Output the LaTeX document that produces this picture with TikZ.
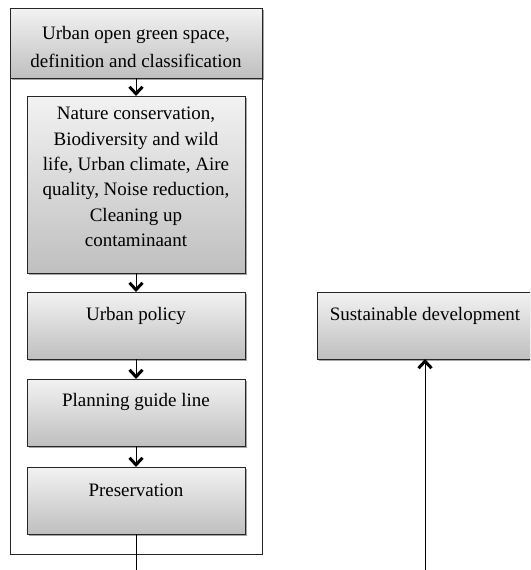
\documentclass[tikz,border=0pt]{standalone}
\usepackage{fontspec}
\setmainfont{Liberation Serif}
\usetikzlibrary{arrows.meta,shadows}
\tikzset{
  gbox/.style={draw=black!85, line width=0.9pt, top color=gray!10, bottom color=gray!50,
    anchor=north west, inner sep=0pt, outer sep=0pt,
    drop shadow={shadow xshift=1.5pt, shadow yshift=-1.5pt, opacity=0.35, fill=black}},
  txt/.style={align=center, inner sep=0pt, font=\fontsize{19}{25.4}\selectfont},
  conn/.style={line width=0.9pt, draw=black},
  chev/.style={conn, -{Straight Barb[length=7pt,width=13pt,line width=3pt 0]}},
}
\begin{document}
\begin{tikzpicture}[x=1pt,y=-1pt]
\useasboundingbox (0,0) rectangle (530,570);
\begin{scope}
\clip (0,0) rectangle (530,570);
% outer frame
\node[draw=black!85, line width=0.9pt, anchor=north west, minimum width=252pt, minimum height=546pt, inner sep=0pt] (frame) at (10,8) {};
% boxes
\node[gbox, minimum width=252pt, minimum height=70pt] (b1) at (10,8) {};
\node[gbox, minimum width=218pt, minimum height=177pt] (b2) at (27,96) {};
\node[gbox, minimum width=218pt, minimum height=67pt] (b3) at (27,292) {};
\node[gbox, minimum width=218pt, minimum height=67pt] (b4) at (27,379) {};
\node[gbox, minimum width=218pt, minimum height=67pt] (b5) at (27,467) {};
\node[gbox, minimum width=216pt, minimum height=67pt] (sd) at (317,292) {};
% texts
\node[txt, font=\fontsize{19}{28.5}\selectfont] (t1) at (136,47) {Urban open green space,\\definition and classification};
\node[txt] (t2) at (136,177) {Nature conservation,\\Biodiversity and wild\\life, Urban climate, Aire\\quality, Noise reduction,\\Cleaning up\\contaminaant};
\node[txt] (t3) at (136,316) {Urban policy};
\node[txt] (t4) at (136,402) {Planning guide line};
\node[txt] (t5) at (136,490) {Preservation};
\node[txt] (tsd) at (425,316) {Sustainable development};
% connectors
\coordinate (e1) at (136,570);
\coordinate (e2) at (425,570);
\draw[chev] (b1.south -| b2.north) -- (b2.north);
\draw[chev] (b2.south) -- (b3.north);
\draw[chev] (b3.south) -- (b4.north);
\draw[chev] (b4.south) -- (b5.north);
\draw[conn] (b5.south) -- (e1);
\draw[chev] (e2) -- (sd.south);
\end{scope}
\end{tikzpicture}
\end{document}
